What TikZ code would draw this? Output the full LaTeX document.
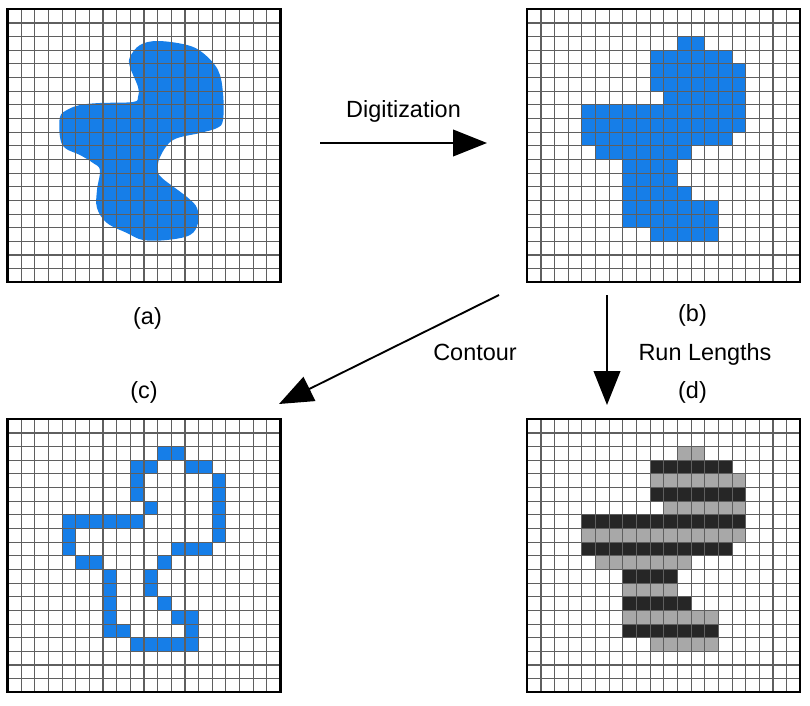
\documentclass[tikz,border=0pt]{standalone}
\usepackage{fontspec}
\setmainfont{Liberation Sans}
\usetikzlibrary{arrows.meta}

\definecolor{pixblue}{RGB}{22,126,232}
\definecolor{rungray}{RGB}{168,168,168}
\definecolor{rundark}{RGB}{38,38,38}
\definecolor{gridcol}{RGB}{95,95,95}

\tikzset{
  gridline/.style={gridcol, line width=0.95pt},
  gridframe/.style={black, line width=1.8pt},
  lbl/.style={font=\fontsize{20}{24}\selectfont, inner sep=0pt},
  bigarrow/.style={line width=1.6pt, -{Triangle[length=1.02cm,width=0.8cm]}}
}

% 20x20 pixel grid, unit = one cell
\newcommand{\pixgrid}{%
  \foreach \i in {1,...,19} {
    \draw[gridline] (\i,0) -- (\i,20);
    \draw[gridline] (0,\i) -- (20,\i);
  }
  \draw[gridframe] (0,0) rectangle (20,20);}

% digitized shape as runs: row/first/last
\newcommand{\shaperuns}{2/11/12,3/9/14,4/9/15,5/9/15,6/10/15,7/4/15,8/4/15,9/4/14,10/5/11,11/7/10,12/7/10,13/7/11,14/7/13,15/7/13,16/9/13}
% border cells: row/col
\newcommand{\contourcells}{2/11,2/12,3/9,3/10,3/13,3/14,4/9,4/15,5/9,5/15,6/10,6/15,7/4,7/5,7/6,7/7,7/8,7/9,7/15,8/4,8/15,9/4,9/12,9/13,9/14,10/5,10/6,10/11,11/7,11/10,12/7,12/10,13/7,13/11,14/7,14/12,14/13,15/7,15/8,15/13,16/9,16/10,16/11,16/12,16/13}

\begin{document}
\begin{tikzpicture}[x=0.03cm, y=-0.03cm]
  \useasboundingbox (0,0) rectangle (810,706);

  % (a) original shape
  \fill[pixblue] plot[smooth cycle, tension=0.6] coordinates {
    (158,41) (187,45) (203,53) (218,70) (223,93) (223,120) (217,128)
    (200,133) (173,140) (160,157) (158,170) (162,178) (187,197)
    (197,208) (198,223) (190,235) (167,240) (143,240) (127,233)
    (107,223) (97,208) (97,190) (100,170) (93,163) (80,155) (65,148)
    (60,137) (60,117) (67,110) (80,105) (100,103) (133,102) (138,97)
    (138,87) (130,67) (130,57) (140,45)};
  \begin{scope}[shift={(7.5,9.3)}, x=0.4095cm, y=-0.4095cm]
    \pixgrid
  \end{scope}

  % (b) digitized
  \begin{scope}[shift={(527.3,9.3)}, x=0.4095cm, y=-0.4095cm]
    \foreach \r/\a/\b in \shaperuns
      \foreach \c in {\a,...,\b}
        \fill[pixblue] (\c,\r) rectangle ++(1,1);
    \pixgrid
  \end{scope}

  % (c) contour
  \begin{scope}[shift={(7.5,419.3)}, x=0.4095cm, y=-0.4095cm]
    \foreach \r/\c in \contourcells
      \fill[pixblue] (\c,\r) rectangle ++(1,1);
    \pixgrid
  \end{scope}

  % (d) run lengths
  \begin{scope}[shift={(527.3,419.3)}, x=0.4095cm, y=-0.4095cm]
    \foreach \r/\a/\b in \shaperuns {
      \ifodd\r\relax \def\runcol{rundark}\else \def\runcol{rungray}\fi
      \foreach \c in {\a,...,\b}
        \fill[\runcol] (\c,\r) rectangle ++(1,1);
    }
    \pixgrid
  \end{scope}

  % captions
  \node[lbl, anchor=base] (cap-a) at (147.5,324) {(a)};
  \node[lbl, anchor=base] (cap-b) at (692.5,321) {(b)};
  \node[lbl, anchor=base] (cap-c) at (144,398) {(c)};
  \node[lbl, anchor=base] (cap-d) at (692.5,398.5) {(d)};

  % arrows
  \coordinate (dig-s) at (320,143);
  \coordinate (dig-e) at (487,143);
  \coordinate (con-s) at (499,295);
  \coordinate (con-e) at (279,404);
  \coordinate (run-s) at (607,295);
  \coordinate (run-e) at (607,405);
  \draw[bigarrow] (dig-s) -- node[lbl, above=0.6cm] (dig-lbl) {Digitization} (dig-e);
  \draw[bigarrow] (con-s) -- (con-e);
  \draw[bigarrow] (run-s) -- (run-e);
  \node[lbl, anchor=base] (con-lbl) at (475,360) {Contour};
  \node[lbl, anchor=base] (run-lbl) at (705,360) {Run Lengths};
\end{tikzpicture}
\end{document}
